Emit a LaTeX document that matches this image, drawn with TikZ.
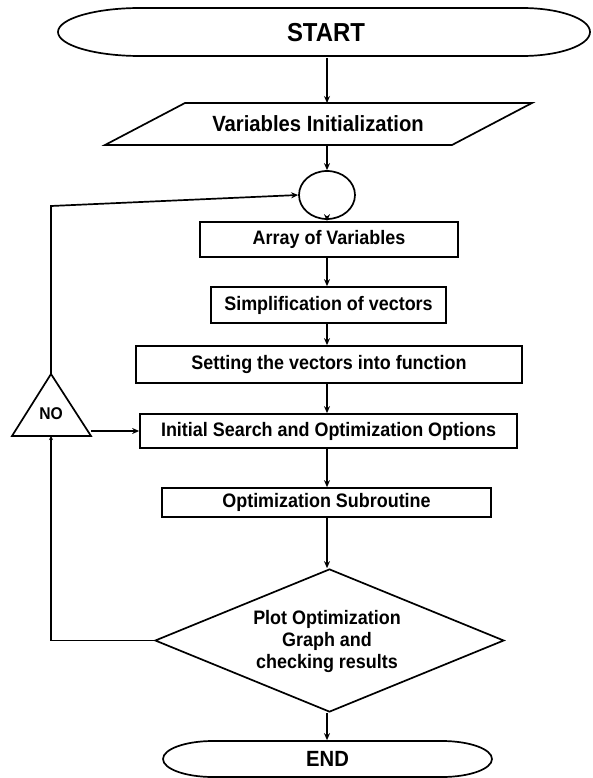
\documentclass[tikz,border=0pt]{standalone}
\usepackage{fontspec}
\setmainfont[FakeStretch=0.92]{Liberation Sans}
\usetikzlibrary{arrows.meta,shapes.geometric}
\begin{document}
\begin{tikzpicture}[x=1pt,y=-1pt,
  line width=1.7pt,
  every node/.style={font=\bfseries\fontsize{19.5}{22}\selectfont, inner sep=0pt, align=center},
  stepbox/.style={draw, rectangle, line width=1.7pt},
  arr/.style={-{Stealth[length=7pt,width=6pt]}},
]
\useasboundingbox (0,0) rectangle (592,778);

% START (elongated oval)
\draw (140,8) -- (522,8) .. controls (559.6,8) and (590,18.75) .. (590,32)
  .. controls (590,45.25) and (559.6,56) .. (522,56) -- (140,56)
  .. controls (94.7,56) and (58,45.25) .. (58,32)
  .. controls (58,18.75) and (94.7,8) .. cycle;
\node[minimum width=532pt, minimum height=48pt, font=\bfseries\fontsize{26}{28}\selectfont] (start) at (326,33) {START};

% Variables Initialization (parallelogram)
\draw (185,103) -- (532,103) -- (452,145) -- (105,145) -- cycle;
\node[minimum width=200pt, minimum height=42pt, font=\bfseries\fontsize{22}{24}\selectfont] (vinit) at (318,124) {Variables Initialization};
\coordinate (vtop) at (327,103);
\coordinate (vbot) at (327,145);

% connector circle
\node[draw, ellipse, minimum width=56pt, minimum height=48pt] (circ) at (327,195) {};

% boxes
\node[stepbox, minimum width=258pt, minimum height=35pt] (arrv) at (329,239.5) {Array of Variables};
\node[stepbox, minimum width=235pt, minimum height=36pt] (simp) at (328.5,305) {Simplification of vectors};
\node[stepbox, minimum width=386pt, minimum height=37pt] (sett) at (329,364.5) {Setting the vectors into function};
\node[stepbox, minimum width=377pt, minimum height=34pt] (init) at (328.5,431) {Initial Search and Optimization Options};
\node[stepbox, minimum width=329pt, minimum height=29pt] (osub) at (326.5,502.5) {Optimization Subroutine};

% decision diamond
\node[draw, diamond, minimum width=349pt, minimum height=143pt, aspect=2.44, inner sep=0pt] (dec) at (329.5,640.5) {};
\node (dectxt) at (327,641) {Plot Optimization\\Graph and\\checking results};

% END (oval)
\draw (213,741) -- (442,741) .. controls (469.6,741) and (492,749.1) .. (492,759)
  .. controls (492,768.9) and (469.6,777) .. (442,777) -- (213,777)
  .. controls (185.4,777) and (163,768.9) .. (163,759)
  .. controls (163,749.1) and (185.4,741) .. cycle;
\node[minimum width=329pt, minimum height=36pt, font=\bfseries\fontsize{22}{24}\selectfont] (endn) at (327.5,759) {END};

% NO triangle
\draw (51,374) -- (91,436) -- (12,436) -- cycle;
\node[font=\bfseries\fontsize{17}{19}\selectfont] (no) at (51,414) {NO};
\coordinate (triapex) at (51,374);
\coordinate (tribase) at (51,436);
\coordinate (triright) at (91,431);

% main flow
\draw[arr] (start.south -| vtop) -- (vtop);
\draw[arr] (vbot) -- (circ.north);
\draw[arr] (circ.south) -- (arrv.north -| circ.south);
\draw[arr] (arrv.south -| circ.south) -- (simp.north -| circ.south);
\draw[arr] (simp.south -| circ.south) -- (sett.north -| circ.south);
\draw[arr] (sett.south -| circ.south) -- (init.north -| circ.south);
\draw[arr] (init.south -| circ.south) -- (osub.north -| circ.south);
\draw[arr] (osub.south -| circ.south) -- (dec.north -| circ.south);
\draw[arr] (dec.south -| circ.south) -- (endn.north -| circ.south);

% loop back
\coordinate (lc) at (51,206);
\coordinate (dl) at (51,640.5);
\draw[arr] (triapex) -- (lc) -- (circ.west);
\draw[arr] (triright) -- (init.west);
\draw[-{Stealth[length=4pt,width=4pt]}] (dec.west) -- (dl) -- (tribase);
\end{tikzpicture}
\end{document}
